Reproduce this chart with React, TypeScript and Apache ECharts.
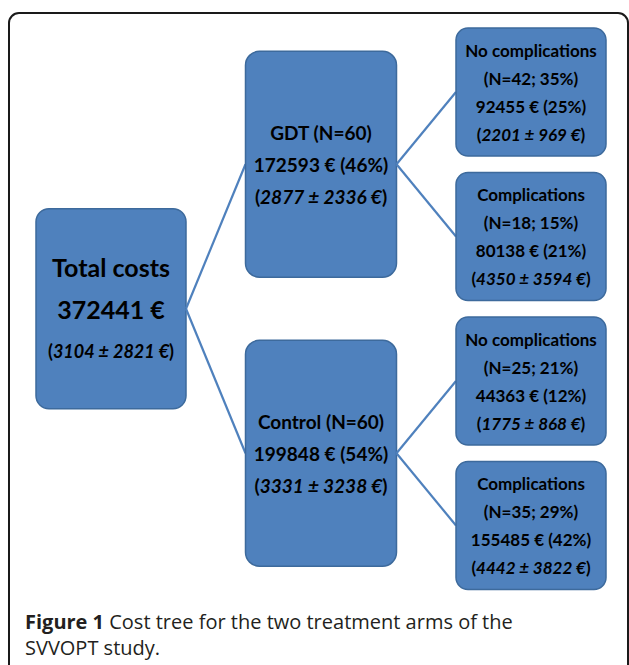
import React, { useEffect, useRef } from 'react';
import * as echarts from 'echarts';

// ---- data ----
const nodeTitles = ['Total costs', 'GDT', 'Control', 'No complications', 'Complications', 'No complications', 'Complications'];
const parentOf = [-1, 0, 0, 1, 1, 2, 2];
const patients = [120, 60, 60, 42, 18, 25, 35];
const patientShare = [100, 50, 50, 35, 15, 21, 29];
const totalCost = [372441, 172593, 199848, 92455, 80138, 44363, 155485];
const costShare = [100, 46, 54, 25, 21, 12, 42];
const meanCost = [3104, 2877, 3331, 2201, 4350, 1775, 4442];
const sdCost = [2821, 2336, 3238, 969, 3594, 868, 3822];
const captionBold = 'Figure 1';
const captionLines = [' Cost tree for the two treatment arms of the', 'SVVOPT study.'];

// ---- tree structure -> layout values (level, slot) ----
const levelOf = parentOf.map((_, i) => {
  let d = 0;
  let p = parentOf[i];
  while (p >= 0) { d++; p = parentOf[p]; }
  return d;
});
const childrenOf = parentOf.map((_, i) => parentOf.map((p, j) => (p === i ? j : -1)).filter((j) => j >= 0));
const slotOf: number[] = new Array(parentOf.length).fill(0);
let leafCounter = 0;
const assignSlot = (i: number): number => {
  const ch = childrenOf[i];
  if (ch.length === 0) { slotOf[i] = leafCounter++; return slotOf[i]; }
  const s = ch.map(assignSlot);
  slotOf[i] = s.reduce((a, b) => a + b, 0) / s.length;
  return slotOf[i];
};
assignSlot(0);
const nodeData = parentOf.map((_, i) => [levelOf[i], slotOf[i], i]);
const maxLevel = Math.max(...levelOf);

const labelFor = (i: number): string => {
  const lv = levelOf[i];
  if (lv === 0) {
    return `{t|${nodeTitles[i]}}\n{t|${totalCost[i]} €}\n{p|(}{pi|${meanCost[i]} ± ${sdCost[i]} €}{p|)}`;
  }
  if (lv === 1) {
    return `{m|${nodeTitles[i]} (N=${patients[i]})}\n{m|${totalCost[i]} € (${costShare[i]}%)}\n{m|(}{mi|${meanCost[i]} ± ${sdCost[i]} €}{m|)}`;
  }
  return `{s|${nodeTitles[i]}}\n{s|(N=${patients[i]}; ${patientShare[i]}%)}\n{s|${totalCost[i]} € (${costShare[i]}%)}\n{s|(}{si|${meanCost[i]} ± ${sdCost[i]} €}{s|)}`;
};

const BOX_FILL = '#4F81BD';
const BOX_STROKE = '#3D6A9C';
const LINE_COLOR = '#4F81BD';
const TEXT_COLOR = '#000000';
const FONT = 'Lato, "Open Sans", sans-serif';
const CAPTION_FONT = '"Open Sans", sans-serif';
const boxW = [150, 151, 150];
const boxH = [200, 226, 128];
const boxR = [13, 14, 12];

const rich = {
  t: { fontFamily: FONT, fontSize: 25, fontWeight: 'bold', lineHeight: 42, fill: TEXT_COLOR },
  p: { fontFamily: FONT, fontSize: 18, fontWeight: 'bold', lineHeight: 42, fill: TEXT_COLOR },
  pi: { fontFamily: FONT, fontSize: 18, fontWeight: 'bold', fontStyle: 'italic', lineHeight: 42, fill: TEXT_COLOR },
  m: { fontFamily: FONT, fontSize: 19, fontWeight: 'bold', lineHeight: 32, fill: TEXT_COLOR },
  mi: { fontFamily: FONT, fontSize: 19, fontWeight: 'bold', fontStyle: 'italic', lineHeight: 32, fill: TEXT_COLOR },
  s: { fontFamily: FONT, fontSize: 17, fontWeight: 'bold', lineHeight: 28, fill: TEXT_COLOR },
  si: { fontFamily: FONT, fontSize: 17, fontWeight: 'bold', fontStyle: 'italic', lineHeight: 28, fill: TEXT_COLOR },
};

export default function App() {
  const ref = useRef<HTMLDivElement>(null);
  useEffect(() => {
    if (!ref.current) return;
    const chart = echarts.init(ref.current, undefined, { renderer: 'svg' });
    const option: any = {
      animation: false,
      backgroundColor: '#ffffff',
      grid: { left: 111, right: 98, top: 92, bottom: 139.5 },
      xAxis: { type: 'value', min: 0, max: maxLevel, show: false },
      yAxis: { type: 'value', min: 0, max: leafCounter - 1, inverse: true, show: false },
      graphic: [
        {
          type: 'rect',
          shape: { x: 9, y: 13, width: 619, height: 720, r: 10 },
          style: { fill: 'none', stroke: '#1a1a1a', lineWidth: 2 },
          silent: true,
        },
        {
          type: 'text',
          left: 25,
          top: 611,
          style: {
            text: `{b|${captionBold}}{r|${captionLines[0]}}\n{r|${captionLines[1]}}`,
            rich: {
              b: { fontFamily: CAPTION_FONT, fontSize: 20, fontWeight: 'bold', lineHeight: 26, fill: '#231F20' },
              r: { fontFamily: CAPTION_FONT, fontSize: 20, fontWeight: 'normal', lineHeight: 26, fill: '#231F20' },
            },
          },
          silent: true,
        },
      ],
      series: [
        {
          type: 'custom',
          coordinateSystem: 'cartesian2d',
          clip: false,
          silent: true,
          encode: { x: 0, y: 1 },
          data: nodeData,
          renderItem: (params: any, api: any) => {
            const i = api.value(2);
            const lv = api.value(0);
            const [cx, cy] = api.coord([lv, api.value(1)]);
            const w = boxW[lv];
            const h = boxH[lv];
            const children: any[] = [];
            const p = parentOf[i];
            if (p >= 0) {
              const [px, py] = api.coord([levelOf[p], slotOf[p]]);
              children.push({
                type: 'line',
                shape: { x1: px + boxW[levelOf[p]] / 2, y1: py, x2: cx - w / 2, y2: cy },
                style: { stroke: LINE_COLOR, lineWidth: 2.2 },
              });
            }
            children.push({
              type: 'rect',
              shape: { x: cx - w / 2, y: cy - h / 2, width: w, height: h, r: boxR[lv] },
              style: { fill: BOX_FILL, stroke: BOX_STROKE, lineWidth: 1.5 },
            });
            children.push({
              type: 'text',
              style: {
                text: labelFor(i),
                x: cx,
                y: cy,
                align: 'center',
                verticalAlign: 'middle',
                rich,
                fill: TEXT_COLOR,
              },
            });
            return { type: 'group', children };
          },
        },
      ],
    };
    chart.setOption(option);
    return () => chart.dispose();
  }, []);
  return (
    <div
      ref={ref}
      style={{ position: 'absolute', left: 0, top: 0, width: 629, height: 665, background: '#fff' }}
    />
  );
}
